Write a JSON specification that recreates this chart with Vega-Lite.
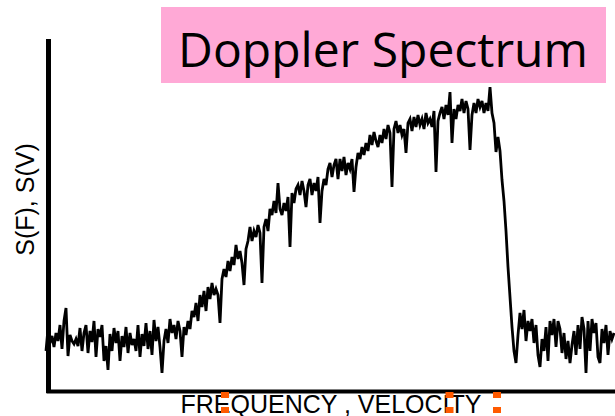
{
  "$schema": "https://vega.github.io/schema/vega-lite/v6.json",
  "width": 569,
  "height": 384,
  "autosize": "none",
  "padding": {"left": 46, "top": 7, "right": 0, "bottom": 25},
  "background": "white",
  "config": {
    "view": {"stroke": null},
    "font": "Liberation Sans"
  },
  "datasets": {
    "spectrum": [
      {"f": 46, "s": 40}, {"f": 48, "s": 62}, {"f": 50, "s": 48}, {"f": 52, "s": 55}, {"f": 54, "s": 44},
      {"f": 56, "s": 58}, {"f": 58, "s": 50}, {"f": 60, "s": 66}, {"f": 62, "s": 42}, {"f": 64, "s": 70},
      {"f": 66, "s": 83}, {"f": 68, "s": 35}, {"f": 70, "s": 56}, {"f": 72, "s": 50}, {"f": 74, "s": 47},
      {"f": 76, "s": 52}, {"f": 78, "s": 45}, {"f": 80, "s": 63}, {"f": 82, "s": 40}, {"f": 84, "s": 58},
      {"f": 86, "s": 66}, {"f": 88, "s": 38}, {"f": 90, "s": 60}, {"f": 92, "s": 49}, {"f": 94, "s": 70},
      {"f": 96, "s": 34}, {"f": 98, "s": 62}, {"f": 100, "s": 54}, {"f": 102, "s": 66}, {"f": 104, "s": 30},
      {"f": 106, "s": 45}, {"f": 108, "s": 21}, {"f": 110, "s": 57}, {"f": 112, "s": 40}, {"f": 114, "s": 63},
      {"f": 116, "s": 48}, {"f": 118, "s": 60}, {"f": 120, "s": 30}, {"f": 122, "s": 55}, {"f": 124, "s": 44},
      {"f": 126, "s": 64}, {"f": 128, "s": 38}, {"f": 130, "s": 58}, {"f": 132, "s": 46}, {"f": 134, "s": 52},
      {"f": 136, "s": 40}, {"f": 138, "s": 66}, {"f": 140, "s": 34}, {"f": 142, "s": 57}, {"f": 144, "s": 45},
      {"f": 146, "s": 68}, {"f": 148, "s": 42}, {"f": 150, "s": 60}, {"f": 152, "s": 36}, {"f": 154, "s": 71},
      {"f": 156, "s": 50}, {"f": 158, "s": 64}, {"f": 160, "s": 44}, {"f": 162, "s": 18}, {"f": 164, "s": 50},
      {"f": 166, "s": 62}, {"f": 168, "s": 48}, {"f": 170, "s": 72}, {"f": 172, "s": 58}, {"f": 174, "s": 66},
      {"f": 176, "s": 52}, {"f": 178, "s": 70}, {"f": 180, "s": 60}, {"f": 182, "s": 34}, {"f": 184, "s": 64},
      {"f": 186, "s": 56}, {"f": 188, "s": 70}, {"f": 190, "s": 62}, {"f": 192, "s": 80}, {"f": 194, "s": 74},
      {"f": 196, "s": 88}, {"f": 198, "s": 70}, {"f": 200, "s": 96}, {"f": 202, "s": 84}, {"f": 204, "s": 100},
      {"f": 206, "s": 80}, {"f": 208, "s": 104}, {"f": 210, "s": 92}, {"f": 212, "s": 108}, {"f": 214, "s": 96},
      {"f": 216, "s": 102}, {"f": 218, "s": 96}, {"f": 220, "s": 68}, {"f": 222, "s": 112}, {"f": 224, "s": 122},
      {"f": 226, "s": 114}, {"f": 228, "s": 130}, {"f": 230, "s": 120}, {"f": 232, "s": 134}, {"f": 234, "s": 126},
      {"f": 236, "s": 146}, {"f": 238, "s": 132}, {"f": 240, "s": 140}, {"f": 242, "s": 128}, {"f": 244, "s": 106},
      {"f": 246, "s": 142}, {"f": 248, "s": 150}, {"f": 250, "s": 164}, {"f": 252, "s": 150}, {"f": 254, "s": 160},
      {"f": 256, "s": 154}, {"f": 258, "s": 166}, {"f": 260, "s": 158}, {"f": 262, "s": 108}, {"f": 264, "s": 164},
      {"f": 266, "s": 172}, {"f": 268, "s": 160}, {"f": 270, "s": 182}, {"f": 272, "s": 176}, {"f": 274, "s": 190},
      {"f": 276, "s": 178}, {"f": 278, "s": 208}, {"f": 280, "s": 182}, {"f": 282, "s": 176}, {"f": 284, "s": 188},
      {"f": 286, "s": 180}, {"f": 288, "s": 194}, {"f": 290, "s": 144}, {"f": 292, "s": 198}, {"f": 294, "s": 188},
      {"f": 296, "s": 202}, {"f": 298, "s": 206}, {"f": 300, "s": 196}, {"f": 302, "s": 210}, {"f": 304, "s": 200},
      {"f": 306, "s": 184}, {"f": 308, "s": 206}, {"f": 310, "s": 212}, {"f": 312, "s": 196}, {"f": 314, "s": 208},
      {"f": 316, "s": 200}, {"f": 318, "s": 214}, {"f": 320, "s": 168}, {"f": 322, "s": 200}, {"f": 324, "s": 212},
      {"f": 326, "s": 206}, {"f": 328, "s": 222}, {"f": 330, "s": 228}, {"f": 332, "s": 214}, {"f": 334, "s": 226},
      {"f": 336, "s": 232}, {"f": 338, "s": 212}, {"f": 340, "s": 232}, {"f": 342, "s": 220}, {"f": 344, "s": 234},
      {"f": 346, "s": 216}, {"f": 348, "s": 228}, {"f": 350, "s": 222}, {"f": 352, "s": 232}, {"f": 354, "s": 199},
      {"f": 356, "s": 224}, {"f": 358, "s": 238}, {"f": 360, "s": 232}, {"f": 362, "s": 244}, {"f": 364, "s": 236},
      {"f": 366, "s": 248}, {"f": 368, "s": 240}, {"f": 370, "s": 256}, {"f": 372, "s": 246}, {"f": 374, "s": 259},
      {"f": 376, "s": 250}, {"f": 378, "s": 244}, {"f": 380, "s": 256}, {"f": 382, "s": 248}, {"f": 384, "s": 262},
      {"f": 386, "s": 252}, {"f": 388, "s": 266}, {"f": 390, "s": 258}, {"f": 392, "s": 204}, {"f": 394, "s": 262},
      {"f": 396, "s": 270}, {"f": 398, "s": 258}, {"f": 400, "s": 266}, {"f": 402, "s": 256}, {"f": 404, "s": 262},
      {"f": 406, "s": 238}, {"f": 408, "s": 268}, {"f": 410, "s": 272}, {"f": 412, "s": 260}, {"f": 414, "s": 274},
      {"f": 416, "s": 264}, {"f": 418, "s": 276}, {"f": 420, "s": 266}, {"f": 422, "s": 272}, {"f": 424, "s": 262},
      {"f": 426, "s": 278}, {"f": 428, "s": 268}, {"f": 430, "s": 272}, {"f": 432, "s": 264}, {"f": 434, "s": 280},
      {"f": 436, "s": 219}, {"f": 438, "s": 270}, {"f": 440, "s": 278}, {"f": 442, "s": 284}, {"f": 444, "s": 272},
      {"f": 446, "s": 286}, {"f": 448, "s": 276}, {"f": 450, "s": 299}, {"f": 452, "s": 248}, {"f": 454, "s": 282},
      {"f": 456, "s": 272}, {"f": 458, "s": 286}, {"f": 460, "s": 280}, {"f": 462, "s": 292}, {"f": 464, "s": 278},
      {"f": 466, "s": 290}, {"f": 468, "s": 282}, {"f": 470, "s": 241}, {"f": 472, "s": 276}, {"f": 474, "s": 288},
      {"f": 476, "s": 278}, {"f": 478, "s": 292}, {"f": 480, "s": 284}, {"f": 482, "s": 290}, {"f": 484, "s": 278},
      {"f": 486, "s": 288}, {"f": 488, "s": 280}, {"f": 490, "s": 304}, {"f": 492, "s": 278}, {"f": 494, "s": 268},
      {"f": 496, "s": 239}, {"f": 498, "s": 254}, {"f": 500, "s": 240}, {"f": 502, "s": 211}, {"f": 504, "s": 190},
      {"f": 506, "s": 160}, {"f": 508, "s": 124}, {"f": 510, "s": 94}, {"f": 512, "s": 64}, {"f": 514, "s": 40},
      {"f": 516, "s": 28}, {"f": 518, "s": 56}, {"f": 520, "s": 78}, {"f": 522, "s": 62}, {"f": 524, "s": 81},
      {"f": 526, "s": 50}, {"f": 528, "s": 70}, {"f": 530, "s": 60}, {"f": 532, "s": 72}, {"f": 534, "s": 48},
      {"f": 536, "s": 66}, {"f": 538, "s": 36}, {"f": 540, "s": 24}, {"f": 542, "s": 52}, {"f": 544, "s": 40},
      {"f": 546, "s": 64}, {"f": 548, "s": 30}, {"f": 550, "s": 70}, {"f": 552, "s": 56}, {"f": 554, "s": 72},
      {"f": 556, "s": 44}, {"f": 558, "s": 70}, {"f": 560, "s": 62}, {"f": 562, "s": 38}, {"f": 564, "s": 58},
      {"f": 566, "s": 32}, {"f": 568, "s": 50}, {"f": 570, "s": 28}, {"f": 572, "s": 46}, {"f": 574, "s": 60},
      {"f": 576, "s": 36}, {"f": 578, "s": 66}, {"f": 580, "s": 42}, {"f": 582, "s": 74}, {"f": 584, "s": 62},
      {"f": 586, "s": 18}, {"f": 588, "s": 70}, {"f": 590, "s": 40}, {"f": 592, "s": 72}, {"f": 594, "s": 58},
      {"f": 596, "s": 68}, {"f": 598, "s": 34}, {"f": 600, "s": 28}, {"f": 602, "s": 62}, {"f": 604, "s": 48},
      {"f": 606, "s": 66}, {"f": 608, "s": 36}, {"f": 610, "s": 60}, {"f": 612, "s": 52}, {"f": 614, "s": 58}
    ],
    "markers": [{"f": 225}, {"f": 449.5}, {"f": 497}]
  },
  "layer": [
    {
      "data": {"values": [{}]},
      "mark": {"type": "rect", "color": "#ffa9d6"},
      "encoding": {
        "x": {"datum": 161, "type": "quantitative"},
        "x2": {"datum": 606},
        "y": {"datum": 308, "type": "quantitative"},
        "y2": {"datum": 384}
      }
    },
    {
      "data": {"values": [{}]},
      "mark": {"type": "text", "text": "Doppler Spectrum", "font": "Open Sans", "fontSize": 48, "color": "black", "align": "center", "baseline": "alphabetic"},
      "encoding": {
        "x": {"datum": 383, "type": "quantitative"},
        "y": {"datum": 324, "type": "quantitative"}
      }
    },
    {
      "data": {"name": "spectrum"},
      "mark": {"type": "line", "color": "black", "strokeWidth": 2.8, "strokeJoin": "miter", "clip": false},
      "encoding": {
        "x": {
          "field": "f", "type": "quantitative",
          "scale": {"domain": [46, 615], "nice": false, "zero": false},
          "axis": {
            "title": "FREQUENCY , VELOCITY",
            "titleFont": "Liberation Sans", "titleFontSize": 25, "titleFontWeight": "normal",
            "titleColor": "black", "titleBaseline": "alphabetic", "titlePadding": 21,
            "labels": false, "ticks": false, "grid": false,
            "domainColor": "black", "domainWidth": 4
          }
        },
        "y": {
          "field": "s", "type": "quantitative",
          "scale": {"domain": [0, 384], "nice": false, "zero": false},
          "axis": {
            "title": "S(F), S(V)",
            "titleFont": "Liberation Sans", "titleFontSize": 25, "titleFontWeight": "normal",
            "titleColor": "black", "titlePadding": 8,
            "labels": false, "ticks": false, "grid": false, "domain": false
          }
        }
      }
    },
    {
      "data": {"values": [{}]},
      "mark": {"type": "rule", "color": "black", "strokeWidth": 5, "clip": false},
      "encoding": {
        "x": {"datum": 48.5, "type": "quantitative"},
        "y": {"datum": -2, "type": "quantitative"},
        "y2": {"datum": 352}
      }
    },
    {
      "data": {"name": "markers"},
      "mark": {"type": "rule", "color": "#ff5a00", "strokeWidth": 8, "strokeDash": [6, 9], "clip": false},
      "encoding": {
        "x": {"field": "f", "type": "quantitative"},
        "y": {"datum": -1, "type": "quantitative"},
        "y2": {"datum": -22}
      }
    }
  ]
}
